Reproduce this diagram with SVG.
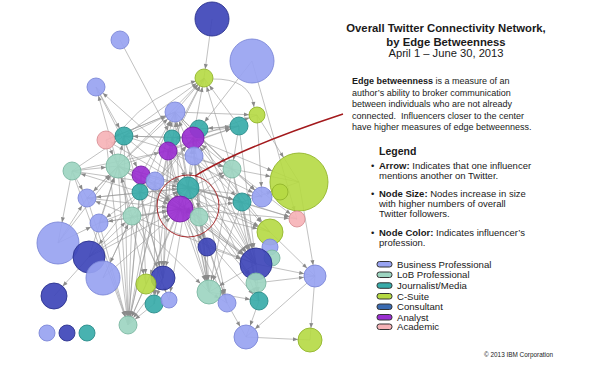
<svg xmlns="http://www.w3.org/2000/svg" width="589" height="370" viewBox="0 0 589 370">
<style>
text{font-family:"Liberation Sans",Arial,sans-serif;fill:#1a1a1a}
.b{font-weight:bold}
.ed path{fill:none;stroke:#969696;stroke-width:0.7;stroke-opacity:0.85}
.e0{marker-end:url(#a0)}.e8{marker-end:url(#a8)}.e9{marker-end:url(#a9)}.e10{marker-end:url(#a10)}.e11{marker-end:url(#a11)}.e12{marker-end:url(#a12)}.e13{marker-end:url(#a13)}.e16{marker-end:url(#a16)}.e17{marker-end:url(#a17)}.e21{marker-end:url(#a21)}.e29{marker-end:url(#a29)}
circle{stroke-width:0.9}
.BP{fill:#98a3f1;stroke:#7d88d8;fill-opacity:0.92}
.LB{fill:#9dd5c1;stroke:#7db8a3;fill-opacity:0.92}
.JM{fill:#38aba9;stroke:#2a8c8a;fill-opacity:0.92}
.CS{fill:#b5d942;stroke:#93b62c;fill-opacity:0.9}
.CO{fill:#3e45b8;stroke:#2d338f;fill-opacity:0.92}
.AN{fill:#9a2fd0;stroke:#7721a6;fill-opacity:0.92}
.AC{fill:#f6b3b7;stroke:#d99196;fill-opacity:0.92}
.sw{stroke:#333;stroke-width:1}
</style>
<defs>
<marker id="a0" markerUnits="userSpaceOnUse" markerWidth="5" markerHeight="4" viewBox="0 0 5 4" refX="5" refY="2" orient="auto" overflow="visible"><path d="M0,0 L5,2 L0,4 z" fill="#8a8a8a"/></marker>
<marker id="a8" markerUnits="userSpaceOnUse" markerWidth="5" markerHeight="4" viewBox="0 0 5 4" refX="13" refY="2" orient="auto" overflow="visible"><path d="M0,0 L5,2 L0,4 z" fill="#8a8a8a"/></marker>
<marker id="a9" markerUnits="userSpaceOnUse" markerWidth="5" markerHeight="4" viewBox="0 0 5 4" refX="14" refY="2" orient="auto" overflow="visible"><path d="M0,0 L5,2 L0,4 z" fill="#8a8a8a"/></marker>
<marker id="a10" markerUnits="userSpaceOnUse" markerWidth="5" markerHeight="4" viewBox="0 0 5 4" refX="15" refY="2" orient="auto" overflow="visible"><path d="M0,0 L5,2 L0,4 z" fill="#8a8a8a"/></marker>
<marker id="a11" markerUnits="userSpaceOnUse" markerWidth="5" markerHeight="4" viewBox="0 0 5 4" refX="16" refY="2" orient="auto" overflow="visible"><path d="M0,0 L5,2 L0,4 z" fill="#8a8a8a"/></marker>
<marker id="a12" markerUnits="userSpaceOnUse" markerWidth="5" markerHeight="4" viewBox="0 0 5 4" refX="17" refY="2" orient="auto" overflow="visible"><path d="M0,0 L5,2 L0,4 z" fill="#8a8a8a"/></marker>
<marker id="a13" markerUnits="userSpaceOnUse" markerWidth="5" markerHeight="4" viewBox="0 0 5 4" refX="18" refY="2" orient="auto" overflow="visible"><path d="M0,0 L5,2 L0,4 z" fill="#8a8a8a"/></marker>
<marker id="a16" markerUnits="userSpaceOnUse" markerWidth="5" markerHeight="4" viewBox="0 0 5 4" refX="21" refY="2" orient="auto" overflow="visible"><path d="M0,0 L5,2 L0,4 z" fill="#8a8a8a"/></marker>
<marker id="a17" markerUnits="userSpaceOnUse" markerWidth="5" markerHeight="4" viewBox="0 0 5 4" refX="22" refY="2" orient="auto" overflow="visible"><path d="M0,0 L5,2 L0,4 z" fill="#8a8a8a"/></marker>
<marker id="a21" markerUnits="userSpaceOnUse" markerWidth="5" markerHeight="4" viewBox="0 0 5 4" refX="26" refY="2" orient="auto" overflow="visible"><path d="M0,0 L5,2 L0,4 z" fill="#8a8a8a"/></marker>
<marker id="a29" markerUnits="userSpaceOnUse" markerWidth="5" markerHeight="4" viewBox="0 0 5 4" refX="34" refY="2" orient="auto" overflow="visible"><path d="M0,0 L5,2 L0,4 z" fill="#8a8a8a"/></marker>
</defs>
<rect width="589" height="370" fill="#ffffff"/>

<g id="connectors" class="ed">
<path class="e9" d="M212,19 L204,78"/>
<path class="e8" d="M120,40 L172,138"/>
<path class="e9" d="M96,87 L124,136"/>
<path class="e9" d="M96,87 L141,175"/>
<path class="e9" d="M118,166 L96,87"/>
<path class="e9" d="M168,151 L96,87"/>
<path class="e9" d="M252,61 L199,129"/>
<path class="e8" d="M252,61 L297,219"/>
<path class="e0" d="M212,79 Q250,78 254,107"/>
<path class="e0" d="M124,127 Q150,95 196,81"/>
<path class="e9" d="M124,136 L204,78"/>
<path class="e9" d="M118,166 L204,78"/>
<path class="e9" d="M168,151 L204,78"/>
<path class="e9" d="M175,112 L204,78"/>
<path class="e9" d="M193,138 L204,78"/>
<path class="e9" d="M232,169 L204,78"/>
<path class="e9" d="M239,126 L204,78"/>
<path class="e9" d="M172,138 L204,78"/>
<path class="e8" d="M175,112 L257,115"/>
<path class="e8" d="M193,138 L257,115"/>
<path class="e29" d="M257,115 L299,182"/>
<path class="e10" d="M257,115 L262,197"/>
<path class="e9" d="M239,126 L232,169"/>
<path class="e9" d="M199,129 L239,126"/>
<path class="e10" d="M124,136 L175,112"/>
<path class="e11" d="M124,136 L193,138"/>
<path class="e10" d="M118,166 L175,112"/>
<path class="e9" d="M118,166 L124,136"/>
<path class="e9" d="M72,171 L124,136"/>
<path class="e12" d="M72,171 L118,166"/>
<path class="e9" d="M72,171 L168,151"/>
<path class="e10" d="M106,140 L175,112"/>
<path class="e10" d="M140,192 L175,112"/>
<path class="e10" d="M141,175 L175,112"/>
<path class="e10" d="M155,181 L175,112"/>
<path class="e10" d="M188,188 L175,112"/>
<path class="e10" d="M194,156 L175,112"/>
<path class="e10" d="M180,209 L175,112"/>
<path class="e11" d="M199,217 L193,138"/>
<path class="e11" d="M188,188 L193,138"/>
<path class="e11" d="M132,216 L193,138"/>
<path class="e11" d="M155,181 L193,138"/>
<path class="e11" d="M242,202 L193,138"/>
<path class="e11" d="M232,169 L193,138"/>
<path class="e9" d="M172,138 L239,126"/>
<path class="e9" d="M168,151 L239,126"/>
<path class="e9" d="M118,166 L239,126"/>
<path class="e9" d="M175,112 L232,169"/>
<path class="e9" d="M124,136 L232,169"/>
<path class="e9" d="M168,151 L232,169"/>
<path class="e9" d="M188,188 L232,169"/>
<path class="e9" d="M180,209 L232,169"/>
<path class="e9" d="M194,156 L242,202"/>
<path class="e9" d="M188,188 L242,202"/>
<path class="e9" d="M180,209 L242,202"/>
<path class="e9" d="M118,166 L242,202"/>
<path class="e9" d="M141,175 L242,202"/>
<path class="e10" d="M168,151 L262,197"/>
<path class="e10" d="M175,112 L262,197"/>
<path class="e10" d="M188,188 L262,197"/>
<path class="e29" d="M193,138 L299,182"/>
<path class="e29" d="M232,169 L299,182"/>
<path class="e29" d="M242,202 L299,182"/>
<path class="e8" d="M180,209 L297,219"/>
<path class="e8" d="M242,202 L297,219"/>
<path class="e8" d="M232,169 L297,219"/>
<path class="e8" d="M118,166 L297,219"/>
<path class="e9" d="M72,171 L87,198"/>
<path class="e9" d="M118,166 L87,198"/>
<path class="e11" d="M87,198 L188,188"/>
<path class="e11" d="M99,223 L188,188"/>
<path class="e13" d="M87,198 L180,209"/>
<path class="e13" d="M99,223 L180,209"/>
<path class="e13" d="M132,216 L180,209"/>
<path class="e13" d="M140,192 L180,209"/>
<path class="e13" d="M141,175 L180,209"/>
<path class="e13" d="M168,151 L180,209"/>
<path class="e13" d="M118,166 L180,209"/>
<path class="e11" d="M106,140 L188,188"/>
<path class="e11" d="M124,136 L188,188"/>
<path class="e11" d="M172,138 L188,188"/>
<path class="e11" d="M72,171 L188,188"/>
<path class="e11" d="M199,129 L188,188"/>
<path class="e9" d="M58,243 L99,223"/>
<path class="e12" d="M58,243 L118,166"/>
<path class="e9" d="M89,257 L132,216"/>
<path class="e13" d="M89,257 L180,209"/>
<path class="e9" d="M103,278 L132,216"/>
<path class="e13" d="M89,257 L54,296"/>
<path class="e21" d="M72,171 L58,243"/>
<path class="e9" d="M180,209 L207,247"/>
<path class="e9" d="M188,188 L207,247"/>
<path class="e16" d="M180,209 L256,264"/>
<path class="e16" d="M188,188 L256,264"/>
<path class="e16" d="M199,217 L256,264"/>
<path class="e16" d="M132,216 L256,264"/>
<path class="e16" d="M118,166 L256,264"/>
<path class="e16" d="M242,202 L256,264"/>
<path class="e16" d="M193,138 L256,264"/>
<path class="e13" d="M180,209 L270,232"/>
<path class="e13" d="M188,188 L270,232"/>
<path class="e13" d="M118,166 L270,232"/>
<path class="e13" d="M175,112 L270,232"/>
<path class="e12" d="M180,209 L209,292"/>
<path class="e12" d="M188,188 L209,292"/>
<path class="e12" d="M132,216 L209,292"/>
<path class="e12" d="M168,151 L209,292"/>
<path class="e12" d="M194,156 L209,292"/>
<path class="e12" d="M140,192 L163,278"/>
<path class="e12" d="M132,216 L163,278"/>
<path class="e12" d="M180,209 L163,278"/>
<path class="e10" d="M188,188 L146,284"/>
<path class="e9" d="M118,166 L128,325"/>
<path class="e9" d="M72,171 L128,325"/>
<path class="e9" d="M87,198 L128,325"/>
<path class="e9" d="M132,216 L128,325"/>
<path class="e9" d="M140,192 L128,325"/>
<path class="e9" d="M124,136 L128,325"/>
<path class="e9" d="M141,175 L128,325"/>
<path class="e9" d="M155,181 L128,325"/>
<path class="e9" d="M99,223 L128,325"/>
<path class="e9" d="M168,151 L128,325"/>
<path class="e9" d="M180,209 L128,325"/>
<path class="e9" d="M106,140 L128,325"/>
<path class="e9" d="M154,304 L128,325"/>
<path class="e9" d="M146,284 L128,325"/>
<path class="e9" d="M172,138 L128,325"/>
<path class="e11" d="M256,264 L315,276"/>
<path class="e11" d="M256,283 L315,276"/>
<path class="e12" d="M315,276 L246,337"/>
<path class="e12" d="M315,276 L310,340"/>
<path class="e12" d="M246,337 L310,340"/>
<path class="e12" d="M259,301 L246,337"/>
<path class="e12" d="M227,303 L246,337"/>
<path class="e9" d="M209,292 L259,301"/>
<path class="e9" d="M256,264 L259,301"/>
<path class="e12" d="M207,247 L209,292"/>
<path class="e9" d="M180,209 L259,301"/>
<path class="e10" d="M188,188 L256,283"/>
<path class="e9" d="M193,138 L227,303"/>
<path class="e8" d="M118,166 L169,300"/>
<path class="e9" d="M155,181 L154,304"/>
<path class="e8" d="M188,188 L169,300"/>
<path class="e9" d="M118,166 L199,217"/>
<path class="e9" d="M194,156 L199,217"/>
<path class="e9" d="M141,175 L199,217"/>
<path class="e9" d="M140,192 L199,217"/>
<path class="e12" d="M89,257 L118,166"/>
<path class="e9" d="M58,243 L87,198"/>
<path class="e12" d="M175,112 L209,292"/>
<path class="e16" d="M168,151 L256,264"/>
<path class="e10" d="M199,217 L256,283"/>
<path class="e16" d="M141,175 L256,264"/>
<path class="e13" d="M103,278 L180,209"/>
<path class="e11" d="M89,257 L188,188"/>
<path class="e11" d="M299,182 L315,276"/>
<path class="e11" d="M270,232 L315,276"/>
<path class="e12" d="M175,112 L163,278"/>
<path class="e9" d="M172,138 L154,304"/>
<path class="e16" d="M199,129 L256,264"/>
<path class="e16" d="M194,156 L256,264"/>
<path class="e16" d="M239,126 L256,264"/>
<path class="e16" d="M232,169 L256,264"/>
<path class="e12" d="M232,169 L209,292"/>
<path class="e12" d="M242,202 L209,292"/>
<path class="e12" d="M193,138 L209,292"/>
<path class="e9" d="M194,156 L259,301"/>
<path class="e9" d="M232,169 L259,301"/>
<path class="e9" d="M242,202 L259,301"/>
<path class="e12" d="M199,217 L209,292"/>
<path class="e9" d="M199,217 L227,303"/>
<path class="e9" d="M188,188 L227,303"/>
<path class="e9" d="M180,209 L227,303"/>
<path class="e16" d="M207,247 L256,264"/>
<path class="e10" d="M118,166 L146,284"/>
<path class="e10" d="M141,175 L146,284"/>
<path class="e12" d="M155,181 L163,278"/>
<path class="e12" d="M168,151 L163,278"/>
<path class="e12" d="M124,136 L163,278"/>
<path class="e12" d="M106,140 L118,166"/>
<path class="e12" d="M87,198 L118,166"/>
<path class="e12" d="M99,223 L118,166"/>
<path class="e12" d="M132,216 L118,166"/>
<path class="e9" d="M180,209 L99,223"/>
<path class="e9" d="M188,188 L87,198"/>
<path class="e9" d="M155,181 L99,223"/>
<path class="e9" d="M132,216 L87,198"/>
<path class="e17" d="M132,216 L103,278"/>
<path class="e16" d="M140,192 L89,257"/>
<path class="e9" d="M140,192 L72,171"/>
<path class="e9" d="M175,112 L106,140"/>
<path class="e9" d="M193,138 L124,136"/>
<path class="e9" d="M239,126 L199,129"/>
<path class="e10" d="M232,169 L262,197"/>
<path class="e13" d="M242,202 L270,232"/>
<path class="e12" d="M256,264 L209,292"/>
<path class="e9" d="M209,292 L227,303"/>
<path class="e9" d="M163,278 L154,304"/>
<path class="e9" d="M163,278 L128,325"/>
</g>

<g id="nodes">
<g id="n1"><circle class="CO" cx="212" cy="19" r="17"/></g>
<g id="n2"><circle class="BP" cx="120" cy="40" r="9"/></g>
<g id="n3"><circle class="BP" cx="252" cy="61" r="22"/></g>
<g id="n4"><circle class="CS" cx="204" cy="78" r="9"/></g>
<g id="n5"><circle class="BP" cx="96" cy="87" r="9"/></g>
<g id="n6"><circle class="BP" cx="175" cy="112" r="10"/></g>
<g id="n7"><circle class="CS" cx="257" cy="115" r="8"/></g>
<g id="n8"><circle class="JM" cx="239" cy="126" r="9"/></g>
<g id="n9"><circle class="JM" cx="199" cy="129" r="9"/></g>
<g id="n10"><circle class="AC" cx="106" cy="140" r="9"/></g>
<g id="n11"><circle class="JM" cx="124" cy="136" r="9"/></g>
<g id="n12"><circle class="JM" cx="172" cy="138" r="8"/></g>
<g id="n13"><circle class="AN" cx="193" cy="138" r="11"/></g>
<g id="n14"><circle class="AN" cx="168" cy="151" r="9"/></g>
<g id="n15"><circle class="BP" cx="194" cy="156" r="9"/></g>
<g id="n16"><circle class="LB" cx="118" cy="166" r="12"/></g>
<g id="n17"><circle class="LB" cx="72" cy="171" r="9"/></g>
<g id="n18"><circle class="LB" cx="232" cy="169" r="9"/></g>
<g id="n19"><circle class="AN" cx="141" cy="175" r="9"/></g>
<g id="n20"><circle class="BP" cx="155" cy="181" r="9"/></g>
<g id="n21"><circle class="JM" cx="188" cy="188" r="11"/></g>
<g id="n22"><circle class="JM" cx="140" cy="192" r="8"/></g>
<g id="n23"><circle class="BP" cx="87" cy="198" r="9"/></g>
<g id="n24"><circle class="JM" cx="242" cy="202" r="9"/></g>
<g id="n25"><circle class="BP" cx="262" cy="197" r="10"/></g>
<g id="n26"><circle class="CS" cx="299" cy="182" r="29"/></g>
<g id="n27"><circle class="CS" cx="280" cy="192" r="8" fill-opacity="0.6"/></g>
<g id="n28"><circle class="AN" cx="180" cy="209" r="13"/></g>
<g id="n29"><circle class="LB" cx="199" cy="217" r="9"/></g>
<g id="n30"><circle class="LB" cx="132" cy="216" r="9"/></g>
<g id="n31"><circle class="BP" cx="99" cy="223" r="9"/></g>
<g id="n32"><circle class="AC" cx="297" cy="219" r="8"/></g>
<g id="n33"><circle class="CS" cx="270" cy="232" r="13"/></g>
<g id="n34"><circle class="BP" cx="58" cy="243" r="21"/></g>
<g id="n35"><circle class="CO" cx="89" cy="257" r="16"/></g>
<g id="n36"><circle class="BP" cx="103" cy="278" r="17" fill-opacity="0.85"/></g>
<g id="n37"><circle class="CO" cx="207" cy="247" r="9"/></g>
<g id="n38"><circle class="BP" cx="270" cy="247" r="8"/></g>
<g id="n56"><circle class="LB" cx="272" cy="258" r="8"/></g>
<g id="n40"><circle class="CO" cx="256" cy="264" r="16"/></g>
<g id="n39"><circle class="LB" cx="256" cy="283" r="10"/></g>
<g id="n41"><circle class="CO" cx="54" cy="296" r="13"/></g>
<g id="n42"><circle class="CO" cx="163" cy="278" r="12"/></g>
<g id="n43"><circle class="CS" cx="146" cy="284" r="10"/></g>
<g id="n44"><circle class="JM" cx="154" cy="304" r="9"/></g>
<g id="n45"><circle class="BP" cx="169" cy="300" r="8"/></g>
<g id="n46"><circle class="LB" cx="209" cy="292" r="12"/></g>
<g id="n47"><circle class="BP" cx="227" cy="303" r="9"/></g>
<g id="n48"><circle class="JM" cx="259" cy="301" r="9"/></g>
<g id="n49"><circle class="LB" cx="128" cy="325" r="9"/></g>
<g id="n50"><circle class="BP" cx="246" cy="337" r="12"/></g>
<g id="n51"><circle class="BP" cx="315" cy="276" r="11"/></g>
<g id="n52"><circle class="CS" cx="310" cy="340" r="12"/></g>
<g id="n53"><circle class="BP" cx="47" cy="333" r="8"/></g>
<g id="n54"><circle class="CO" cx="67" cy="333" r="8"/></g>
<g id="n55"><circle class="JM" cx="87" cy="333" r="8"/></g>
</g>

<g id="highlight">
<circle cx="188" cy="206" r="31" fill="none" stroke="#a3191c" stroke-width="1.4"/>
<path d="M195,176 Q240,148 343,114" fill="none" stroke="#a3191c" stroke-width="1.4"/>
</g>

<g id="title">
<text class="b" x="446" y="32" font-size="11.3" text-anchor="middle">Overall Twitter Connectivity Network,</text>
<text class="b" x="446" y="45.5" font-size="11.3" text-anchor="middle">by Edge Betweenness</text>
<text x="446" y="57" font-size="11.2" text-anchor="middle">April 1 – June 30, 2013</text>
</g>

<g id="description" font-size="9">
<text x="352" y="84">
<tspan class="b">Edge betweenness</tspan> is a measure of an</text>
<text x="352" y="95.5">author’s ability to broker communication</text>
<text x="352" y="107">between individuals who are not already</text>
<text x="352" y="118.5" xml:space="preserve">connected.  Influencers closer to the center</text>
<text x="352" y="130">have higher measures of edge betweenness.</text>
</g>

<g id="legend">
<text class="b" x="379" y="155" font-size="10.5">Legend</text>
<g font-size="9.5">
<text x="371" y="169">•</text>
<text x="379" y="169"><tspan class="b">Arrow:</tspan> Indicates that one influencer</text>
<text x="379" y="179">mentions another on Twitter.</text>
<text x="371" y="197">•</text>
<text x="379" y="197"><tspan class="b">Node Size:</tspan> Nodes increase in size</text>
<text x="379" y="207">with higher numbers of overall</text>
<text x="379" y="217">Twitter followers.</text>
<text x="371" y="236">•</text>
<text x="379" y="236"><tspan class="b">Node Color:</tspan> Indicates influencer’s</text>
<text x="379" y="246">profession.</text>
</g>
<g font-size="9.6">
<rect class="sw" x="377" y="261.5" width="15" height="5.5" rx="2.5" fill="#98a3f1"/>
<text x="397" y="267.5">Business Professional</text>
<rect class="sw" x="377" y="272" width="15" height="5.5" rx="2.5" fill="#9dd5c1"/>
<text x="397" y="278">LoB Professional</text>
<rect class="sw" x="377" y="282.8" width="15" height="5.5" rx="2.5" fill="#38aba9"/>
<text x="397" y="288.8">Journalist/Media</text>
<rect class="sw" x="377" y="293.5" width="15" height="5.5" rx="2.5" fill="#b5d942"/>
<text x="397" y="299.5">C-Suite</text>
<rect class="sw" x="377" y="304" width="15" height="5.5" rx="2.5" fill="#3a6ab0"/>
<text x="397" y="310">Consultant</text>
<rect class="sw" x="377" y="314.5" width="15" height="5.5" rx="2.5" fill="#9a2fd0"/>
<text x="397" y="320.5">Analyst</text>
<rect class="sw" x="377" y="324" width="15" height="5.5" rx="2.5" fill="#f6b3b7"/>
<text x="397" y="330">Academic</text>
</g>
</g>

<text x="484" y="356.5" font-size="6.4">© 2013 IBM Corporation</text>
</svg>
